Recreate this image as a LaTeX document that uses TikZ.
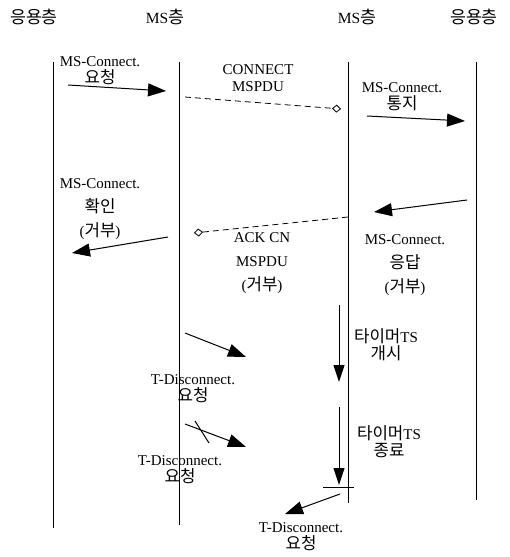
\documentclass[tikz,border=0pt]{standalone}
\usepackage{fontspec}
\setmainfont{Liberation Serif}
\newfontfamily\kr[Scale=1.12]{Noto Sans CJK KR}
\usetikzlibrary{arrows.meta}

\begin{document}
\begin{tikzpicture}[
    x=1pt, y=-1pt,
    head/.style={font=\fontsize{15.5}{18}\selectfont, inner sep=0pt},
    lbl/.style={align=center, font=\fontsize{15}{17}\selectfont, inner sep=0pt},
    tall/.style={align=center, font=\fontsize{15}{24}\selectfont, inner sep=0pt},
    life/.style={line width=1pt},
    msg/.style={-{Triangle[length=18pt,width=13pt]}, line width=1pt},
    pdu/.style={-{Diamond[open,length=9pt,width=8pt]}, dash pattern=on 6pt off 4pt, line width=0.8pt},
    timer/.style={-{Triangle[length=17pt,width=11pt]}, line width=1pt}
]
\useasboundingbox (0,0) rectangle (509,557);

% layer headings
\node[head] (appL) at (34,17) {\kr 응용층};
\node[head] (msL) at (165,17) {MS{\kr 층}};
\node[head] (msR) at (357,17) {MS{\kr 층}};
\node[head] (appR) at (474,17) {\kr 응용층};

% lifelines
\coordinate (appLtop) at (53,62);  \coordinate (appLbot) at (53,528);
\coordinate (msLtop) at (179,62);  \coordinate (msLbot) at (179,525);
\coordinate (msRtop) at (348,62);  \coordinate (msRbot) at (348,503);
\coordinate (appRtop) at (476,62); \coordinate (appRbot) at (476,500);
\draw[life] (appLtop) -- (appLbot);
\draw[life] (msLtop) -- (msLbot);
\draw[life] (msRtop) -- (msRbot);
\draw[life] (appRtop) -- (appRbot);

% connect request
\node[lbl] (reqLbl) at (100,71) {MS-Connect.\\{\kr 요청}};
\coordinate (req0) at (68,85);   \coordinate (req1) at (166,91);
\draw[msg] (req0) -- (req1);

\node[lbl] (cnLbl) at (258,78) {CONNECT\\MSPDU};
\coordinate (cn0) at (185,97);   \coordinate (cn1) at (341,109);
\draw[pdu] (cn0) -- (cn1);

\node[lbl] (indLbl) at (402,97) {MS-Connect.\\{\kr 통지}};
\coordinate (ind0) at (367,116); \coordinate (ind1) at (465,121);
\draw[msg] (ind0) -- (ind1);

% refused response
\coordinate (rsp0) at (467,200); \coordinate (rsp1) at (374,212);
\draw[msg] (rsp0) -- (rsp1);
\node[tall] (rspLbl) at (405,265) {MS-Connect.\\{\kr 응답}\\({\kr 거부})};

\coordinate (ack0) at (348,217); \coordinate (ack1) at (194,233);
\draw[pdu] (ack0) -- (ack1);
\node[tall] (ackLbl) at (262,263) {ACK CN\\MSPDU\\({\kr 거부})};

\node[tall] (cnfLbl) at (100,209) {MS-Connect.\\{\kr 확인}\\({\kr 거부})};
\coordinate (cnf0) at (168,237); \coordinate (cnf1) at (72,253);
\draw[msg] (cnf0) -- (cnf1);

% timer TS
\coordinate (ts0) at (339,305);  \coordinate (ts1) at (339,382);
\draw[timer] (ts0) -- (ts1);
\node[lbl] (tsLbl) at (386,345) {{\kr 타이머}TS\\{\kr 개시}};

\coordinate (te0) at (339,407);  \coordinate (te1) at (339,485);
\draw[timer] (te0) -- (te1);
\node[lbl] (teLbl) at (389,442) {{\kr 타이머}TS\\{\kr 종료}};
\coordinate (bar0) at (323,487); \coordinate (bar1) at (354,487);
\draw[line width=1pt] (bar0) -- (bar1);

% disconnect requests
\coordinate (td0) at (185,333);  \coordinate (td1) at (246,357);
\draw[msg] (td0) -- (td1);
\node[lbl] (tdLbl) at (193,389) {T-Disconnect.\\{\kr 요청}};

\coordinate (tx0) at (185,424);  \coordinate (tx1) at (246,447);
\draw[msg] (tx0) -- (tx1);
\coordinate (x0) at (195,421);   \coordinate (x1) at (209,443);
\draw[line width=1pt] (x0) -- (x1);
\node[lbl] (txLbl) at (180,470) {T-Disconnect.\\{\kr 요청}};

\coordinate (tf0) at (340,494);  \coordinate (tf1) at (285,514);
\draw[msg] (tf0) -- (tf1);
\node[lbl] (tfLbl) at (301,537) {T-Disconnect.\\{\kr 요청}};
\end{tikzpicture}
\end{document}
